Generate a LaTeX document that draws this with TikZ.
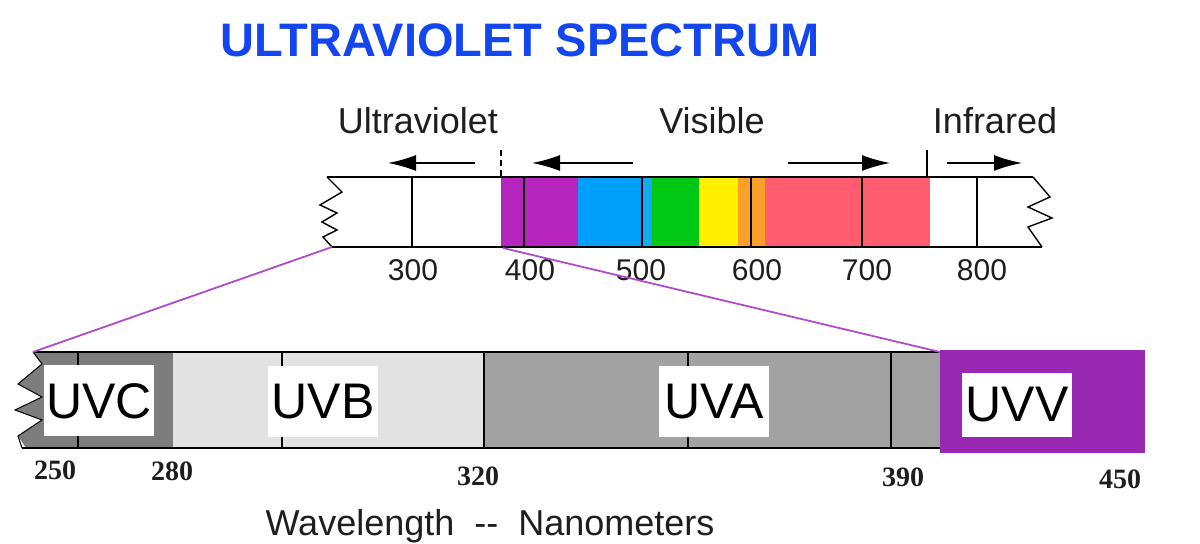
\documentclass[tikz,border=0pt]{standalone}
\usepackage{fontspec}
\setmainfont{Liberation Sans}
\newfontfamily\numserif{Liberation Serif}
\usetikzlibrary{arrows.meta}

\definecolor{titleblue}{RGB}{20,70,240}
\definecolor{inkgray}{RGB}{30,30,30}
\definecolor{specviolet}{RGB}{182,38,190}
\definecolor{specblue}{RGB}{0,160,250}
\definecolor{specblue2}{RGB}{20,170,240}
\definecolor{specgreen}{RGB}{0,200,20}
\definecolor{specyellow}{RGB}{255,240,0}
\definecolor{specorange}{RGB}{250,160,40}
\definecolor{specred}{RGB}{255,92,112}
\definecolor{uvcgray}{RGB}{125,125,125}
\definecolor{uvbgray}{RGB}{226,226,226}
\definecolor{uvagray}{RGB}{162,162,162}
\definecolor{uvvpurple}{RGB}{152,40,178}
\definecolor{linkviolet}{RGB}{175,75,205}

\tikzset{
  bandname/.style={font=\fontsize{18}{20}\selectfont,text=inkgray},
  topnum/.style={font=\fontsize{15}{17}\selectfont,text=inkgray},
  botnum/.style={font=\numserif\bfseries\fontsize{14}{16}\selectfont,text=inkgray},
  uvbox/.style={fill=white,inner sep=0pt,minimum width=55pt,minimum height=35.5pt,font=\fontsize{25}{27}\selectfont},
  dirarrow/.style={-{Latex[length=14pt,width=8pt]},line width=0.8pt},
  edge/.style={line width=0.7pt},
  link/.style={linkviolet,line width=0.9pt}
}

\begin{document}
\begin{tikzpicture}[x=0.5pt,y=-0.5pt]
  \useasboundingbox (0,0) rectangle (1200,544);

  \node[font=\bfseries\fontsize{23.5}{26}\selectfont,text=titleblue] (title) at (520,40) {ULTRAVIOLET SPECTRUM};

  \node[bandname] (uvname) at (418,121) {Ultraviolet};
  \node[bandname] (visname) at (712,121) {Visible};
  \node[bandname] (irname) at (995,121) {Infrared};

  \fill[specviolet] (501,177) rectangle (578,247);
  \fill[specblue] (578,177) rectangle (642,247);
  \fill[specblue2] (642,177) rectangle (652,247);
  \fill[specgreen] (652,177) rectangle (699,247);
  \fill[specyellow] (699,177) rectangle (738,247);
  \fill[specorange] (738,177) rectangle (765,247);
  \fill[specred] (765,177) rectangle (930,247);

  \coordinate (tl) at (327,177);
  \coordinate (bl) at (332,247);
  \coordinate (tr) at (1033,177);
  \coordinate (br) at (1042,247);
  \coordinate (visstart) at (503,248);
  \draw[edge] (tl) -- (tr);
  \draw[edge] (bl) -- (br);
  \draw[edge] (tl) -- (342,192) -- (320,205) -- (337,213) -- (322,222) -- (337,230) -- (323,237) -- (bl);
  \draw[edge] (tr) -- (1050,197) -- (1028,207) -- (1052,218) -- (1028,227) -- (br);
  \foreach \x in {412,524,642,751,862,977}
    \draw[edge] (\x,177) -- (\x,247);
  \draw[edge,densely dashed] (501,150) -- (501,177);
  \draw[edge] (927,150) -- (927,177);

  \coordinate (uvtail) at (475,163);
  \coordinate (uvhead) at (388,163);
  \coordinate (vltail) at (633,163);
  \coordinate (vlhead) at (532,163);
  \coordinate (vrtail) at (788,163);
  \coordinate (vrhead) at (890,163);
  \coordinate (irtail) at (947,163);
  \coordinate (irhead) at (1022,163);
  \draw[dirarrow] (uvtail) -- (uvhead);
  \draw[dirarrow] (vltail) -- (vlhead);
  \draw[dirarrow] (vrtail) -- (vrhead);
  \draw[dirarrow] (irtail) -- (irhead);

  \node[topnum] (n300) at (413,270) {300};
  \node[topnum] (n400) at (530,270) {400};
  \node[topnum] (n500) at (641,270) {500};
  \node[topnum] (n600) at (757,270) {600};
  \node[topnum] (n700) at (867,270) {700};
  \node[topnum] (n800) at (982,270) {800};

  \fill[uvcgray] (33,352) -- (42,364) -- (18,384) -- (42,397) -- (15,410) -- (42,420) -- (18,436) -- (26,448) -- (173,448) -- (173,352) -- cycle;
  \fill[uvbgray] (173,352) rectangle (484,448);
  \fill[uvagray] (484,352) rectangle (940,448);
  \fill[uvvpurple] (940,350) rectangle (1145,453);

  \coordinate (uvtl) at (33,352);
  \coordinate (uvtr) at (940,352);
  \coordinate (uvbl) at (22,448);
  \coordinate (uvbr) at (940,448);
  \draw[edge] (uvtl) -- (uvtr);
  \draw[edge] (uvbl) -- (uvbr);
  \draw[line width=0.5pt] (uvtl) -- (42,364) -- (18,384) -- (42,397) -- (15,410) -- (42,420) -- (18,436) -- (uvbl);
  \foreach \x in {78,282,484,688,891}
    \draw[line width=0.6pt] (\x,352) -- (\x,448);

  \node[uvbox] (uvc) at (99,401) {UVC};
  \node[uvbox] (uvb) at (323,402) {UVB};
  \node[uvbox] (uva) at (714,401.5) {UVA};
  \node[uvbox,minimum height=32pt] (uvv) at (1017,405) {UVV};

  \draw[link] (bl) -- (uvtl);
  \draw[link] (visstart) -- (uvtr);

  \node[botnum] (n250) at (55,470) {250};
  \node[botnum] (n280) at (172,471) {280};
  \node[botnum] (n320) at (478,476) {320};
  \node[botnum] (n390) at (903,477) {390};
  \node[botnum] (n450) at (1120,479) {450};

  \node[font=\fontsize{18}{20}\selectfont,text=inkgray] (axis) at (490,526) {Wavelength\ \ -{}-\ \ Nanometers};
\end{tikzpicture}
\end{document}
